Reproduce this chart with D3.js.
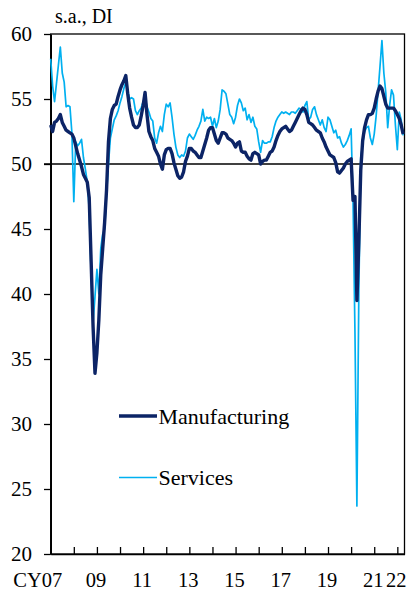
<!DOCTYPE html>
<html><head><meta charset="utf-8">
<script src="https://cdn.jsdelivr.net/npm/d3@7/dist/d3.min.js"></script>
<style>
body{margin:0;background:#fff}
svg{display:block}
text{font-family:"Liberation Serif","Times New Roman",serif;fill:#000}
</style>
</head><body>
<svg id="chart" width="414" height="592"></svg>
<script>
// Monthly data, starting January 2007
const startYear = 2007;
const manufacturing = [
53.0,52.5,53.2,53.3,53.5,53.8,53.2,52.9,52.6,52.5,
52.4,52.3,52.0,51.4,50.8,50.3,49.8,49.2,48.9,48.6,
47.4,42.5,37.5,33.9,35.5,38.0,41.5,43.5,45.5,48.0,
51.7,53.5,54.2,54.5,54.6,55.2,55.7,56.1,56.4,56.8,
55.4,54.3,53.6,53.0,52.8,52.8,53.0,53.7,54.5,55.5,
53.8,52.5,52.1,51.8,51.2,50.9,50.6,50.0,49.6,50.7,
51.1,51.2,51.2,50.8,50.1,49.6,49.1,48.9,49.0,49.4,
50.2,50.6,51.2,51.2,51.0,50.9,50.7,50.5,50.5,51.0,
51.5,52.0,52.6,52.8,52.8,52.3,51.8,51.6,52.0,52.4,
52.4,52.3,52.0,51.9,51.8,51.6,51.3,51.6,51.7,51.0,
50.9,50.9,50.6,50.4,50.3,50.8,50.9,50.8,50.7,50.0,
50.2,50.3,50.3,50.6,50.9,51.0,51.3,51.8,52.2,52.5,
52.7,52.8,52.9,52.7,52.5,52.6,52.9,53.2,53.5,53.8,
54.1,54.3,54.2,53.8,53.2,53.1,53.0,52.8,52.6,52.5,
52.4,52.0,51.7,51.3,51.0,50.7,50.6,50.5,50.1,49.4,
49.3,49.5,49.7,50.0,50.2,50.3,50.4,47.2,47.5,39.5,
44.0,49.5,51.8,52.8,53.4,53.8,53.8,53.9,54.3,55.0,
55.6,56.0,55.8,55.2,54.6,54.3,54.3,54.3,54.3,54.1,
53.8,53.5,53.0,52.3
];
const services = [
58.1,56.0,54.8,56.2,57.6,59.0,57.0,56.3,54.4,54.5,
54.4,52.4,47.1,51.7,51.4,51.6,51.9,50.5,49.6,48.6,
46.5,41.5,37.8,39.8,41.9,40.0,43.5,44.6,45.0,47.7,
50.0,52.0,52.7,53.4,53.7,54.1,54.7,55.2,55.8,56.3,
55.6,55.0,55.1,55.0,54.1,53.8,54.1,54.3,54.8,55.1,
54.4,54.0,53.5,53.3,52.0,51.6,52.4,52.9,52.5,53.8,
54.6,54.4,54.7,53.6,52.3,51.3,50.7,50.5,50.7,50.6,
51.0,52.0,52.3,52.1,51.9,52.2,52.6,52.9,53.3,54.2,
53.3,53.6,53.5,53.6,52.9,53.5,52.8,53.3,54.2,55.7,
55.6,55.4,54.6,53.8,53.6,53.1,53.6,54.5,55.0,54.7,
54.1,54.3,53.4,53.8,53.2,53.6,52.9,52.7,51.7,50.9,
51.8,51.6,51.6,51.7,51.7,52.1,52.8,53.3,53.6,53.8,
54.0,53.9,54.0,53.9,53.8,54.0,54.0,53.9,54.1,54.3,
54.2,54.0,54.5,54.8,53.4,53.6,54.2,54.4,53.8,53.4,
53.0,53.4,52.8,52.5,53.6,53.4,52.9,52.4,52.6,52.0,
52.1,51.6,51.3,51.5,51.8,52.2,52.7,47.1,37.0,23.7,
40.0,50.5,51.5,52.5,52.8,52.9,52.0,51.5,52.3,53.7,
55.6,57.5,59.5,57.0,55.5,52.8,54.5,55.7,55.3,53.0,
51.1,54.0,53.4,52.2
];
const seriesNames = ["Manufacturing", "Services"];
const yTicks = [20, 25, 30, 35, 40, 45, 50, 55, 60];
const xTickYears = [2007,2008,2009,2010,2011,2012,2013,2014,2015,2016,2017,2018,2019,2020,2021,2022];
const xLabelYears = [2007,2009,2011,2013,2015,2017,2019,2021,2022];
const xLabelTexts = ["CY07","09","11","13","15","17","19","21","22"];
const unitLabel = "s.a., DI";

const W = 414, H = 592;
const m = {left: 50.7, right: 9.5, top: 34, bottom: 38};
const svg = d3.select("#chart");

const x = d3.scaleLinear().domain([2007, 2022.31]).range([m.left, W - m.right]);
const y = d3.scaleLinear().domain([20, 60]).range([H - m.bottom, m.top]);
const t = i => startYear + i / 12;

// Frame (top/right)
svg.append("rect")
  .attr("x", m.left).attr("y", m.top)
  .attr("width", W - m.right - m.left).attr("height", H - m.bottom - m.top)
  .attr("fill", "none").attr("stroke", "#000").attr("stroke-width", 1.3);

// Y axis
const yAxis = svg.append("g")
  .attr("transform", `translate(${m.left},0)`)
  .call(d3.axisLeft(y).tickValues(yTicks).tickSize(6.7).tickSizeOuter(0).tickPadding(12).tickFormat(d3.format("d")));
yAxis.select(".domain").attr("stroke", "#000").attr("stroke-width", 1.6);
yAxis.selectAll(".tick line").attr("stroke", "#000").attr("stroke-width", 1.3);
yAxis.selectAll("text").attr("font-size", 21).attr("font-family", "Liberation Serif").attr("fill", "#000");

// X axis (ticks inward)
const xAxis = svg.append("g")
  .attr("transform", `translate(0,${H - m.bottom})`)
  .call(d3.axisBottom(x).tickValues(xTickYears).tickSize(-7).tickSizeOuter(0).tickFormat(""));
xAxis.select(".domain").attr("stroke", "#000").attr("stroke-width", 1.6);
xAxis.selectAll(".tick line").attr("stroke", "#000").attr("stroke-width", 1.3);

svg.append("g").selectAll("text")
  .data(xLabelYears)
  .join("text")
  .attr("x", (d, i) => i === 0 ? x(d) + 11.5 : x(d) - 1)
  .attr("y", 586.5)
  .attr("text-anchor", (d, i) => i === 0 ? "end" : "middle")
  .attr("font-size", 20.5)
  .text((d, i) => xLabelTexts[i]);

// 50 reference line
svg.append("line")
  .attr("x1", m.left - 6.7).attr("x2", W - m.right)
  .attr("y1", y(50)).attr("y2", y(50))
  .attr("stroke", "#000").attr("stroke-width", 1.5);

// Lines
const line = d3.line().x((d, i) => x(t(i))).y(d => y(d));
svg.append("path").datum(services)
  .attr("d", line).attr("fill", "none")
  .attr("stroke", "#00b0f0").attr("stroke-width", 1.7).attr("stroke-linejoin", "round");
svg.append("path").datum(manufacturing)
  .attr("d", line).attr("fill", "none")
  .attr("stroke", "#0c2466").attr("stroke-width", 3.4).attr("stroke-linejoin", "round");

// Unit label
svg.append("text").attr("x", 55).attr("y", 23.3).attr("font-size", 20).text(unitLabel);

// Legend
const legend = svg.append("g");
const legendItems = [
  {name: seriesNames[0], color: "#0c2466", width: 3.4, y: 416},
  {name: seriesNames[1], color: "#00b0f0", width: 1.7, y: 477.5}
];
legend.selectAll("line").data(legendItems).join("line")
  .attr("x1", 119).attr("x2", 157)
  .attr("y1", d => d.y).attr("y2", d => d.y)
  .attr("stroke", d => d.color).attr("stroke-width", d => d.width);
legend.selectAll("text").data(legendItems).join("text")
  .attr("x", 158.5).attr("y", d => d.y + 7.5)
  .attr("font-size", 22)
  .text(d => d.name);
</script>
</body></html>
